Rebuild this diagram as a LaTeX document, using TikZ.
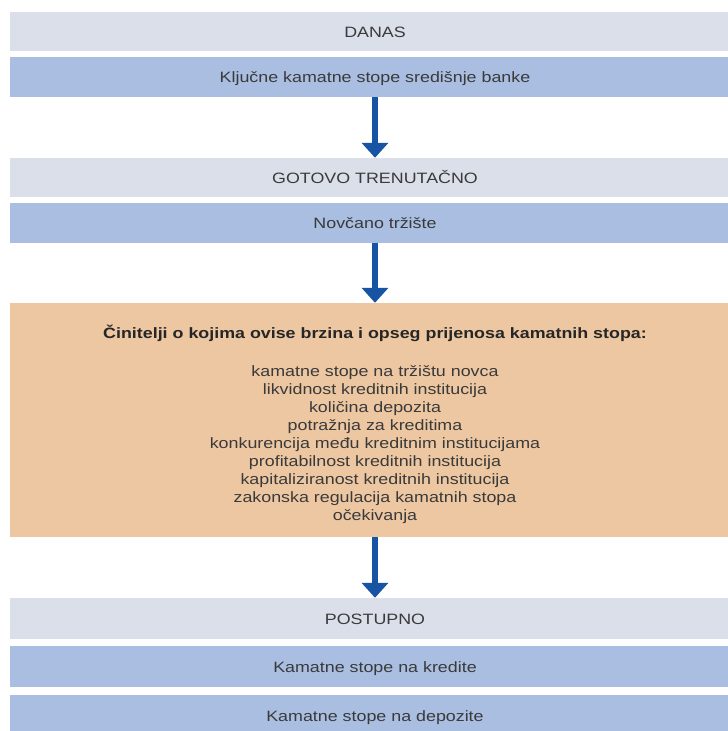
\documentclass[tikz,border=0pt]{standalone}
\usepackage{fontspec}
\setmainfont[FakeStretch=1.19]{Liberation Sans}
\usetikzlibrary{arrows.meta}
\definecolor{lightbox}{RGB}{219,223,234}
\definecolor{bluebox}{RGB}{169,190,225}
\definecolor{orangebox}{RGB}{237,199,161}
\definecolor{arrowblue}{RGB}{24,84,164}
\definecolor{txt}{RGB}{58,58,58}
\begin{document}
\begin{tikzpicture}[x=1pt,y=-1pt,
  band/.style={minimum width=730pt, inner sep=0pt, text height=11pt, text depth=0pt,
    font=\fontsize{15}{18}\selectfont, text=txt},
  lightband/.style={band, fill=lightbox, minimum height=39pt},
  blueband/.style={band, fill=bluebox, minimum height=40pt},
  flowarrow/.style={draw=arrowblue, line width=6pt,
    -{Triangle[length=15pt, width=26pt]}, shorten >=0pt}]
\useasboundingbox (0,0) rectangle (728,731);
\clip (0,0) rectangle (728,731);
\fill[white] (0,0) rectangle (728,731);

\node[lightband] (danas) at (375,31.5) {DANAS};
\node[blueband] (kljucne) at (375,77) {Ključne kamatne stope središnje banke};

\node[lightband] (gotovo) at (375,177.5) {GOTOVO TRENUTAČNO};
\node[blueband] (novcano) at (375,222.5) {Novčano tržište};

\node[fill=orangebox, minimum width=730pt, minimum height=234pt, inner sep=0pt] (factors) at (375,420) {};
\node[font=\fontsize{15}{18}\selectfont\bfseries, text=black!85, inner sep=0pt, anchor=base] (title) at (375,338) {Činitelji o kojima ovise brzina i opseg prijenosa kamatnih stopa:};
\node[font=\fontsize{15}{18}\selectfont, text=txt, align=center, inner sep=0pt, anchor=base] (list) at (375,520) {kamatne stope na tržištu novca\\
likvidnost kreditnih institucija\\
količina depozita\\
potražnja za kreditima\\
konkurencija među kreditnim institucijama\\
profitabilnost kreditnih institucija\\
kapitaliziranost kreditnih institucija\\
zakonska regulacija kamatnih stopa\\
očekivanja};

\node[lightband, minimum height=41pt] (postupno) at (375,618.5) {POSTUPNO};
\node[blueband, minimum height=41pt] (kredite) at (375,666.5) {Kamatne stope na kredite};
\node[blueband, minimum height=42pt] (depozite) at (375,716) {Kamatne stope na depozite};

\draw[flowarrow] (kljucne.south) -- (gotovo.north);
\draw[flowarrow] (novcano.south) -- (factors.north);
\draw[flowarrow] (factors.south) -- (postupno.north);
\end{tikzpicture}
\end{document}
